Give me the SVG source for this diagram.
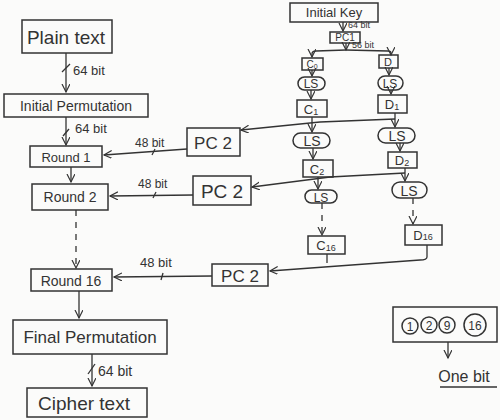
<svg xmlns="http://www.w3.org/2000/svg" width="500" height="420" viewBox="0 0 500 420">
<defs>
<style>
.bx{fill:none;stroke:#333;stroke-width:1.5}
.t{font-family:"Liberation Sans","DejaVu Sans",sans-serif;fill:#333;text-anchor:middle}
.l{font-family:"Liberation Sans","DejaVu Sans",sans-serif;fill:#333}
.ln{fill:none;stroke:#333;stroke-width:1.3}
.ar{marker-end:url(#a)}
.ds{stroke-dasharray:6 6}
</style>
<marker id="a" markerWidth="10" markerHeight="10" refX="8" refY="4" orient="auto" markerUnits="userSpaceOnUse">
<path d="M0,0 L8,4 L0,8" fill="none" stroke="#333" stroke-width="1.2"/>
</marker>
</defs>
<rect width="500" height="420" fill="#fbfbfa"/>

<g id="plain"><rect class="bx" x="22" y="20" width="90" height="33"/><text class="t" x="66" y="44" font-size="19">Plain text</text></g>
<g id="ip"><rect class="bx" x="4" y="94" width="144" height="23"/><text class="t" x="76" y="111" font-size="14">Initial Permutation</text></g>
<g id="r1"><rect class="bx" x="30" y="146" width="72" height="21"/><text class="t" x="66" y="162" font-size="13">Round 1</text></g>
<g id="r2"><rect class="bx" x="32" y="184" width="76" height="26"/><text class="t" x="70" y="202" font-size="14">Round 2</text></g>
<g id="r16"><rect class="bx" x="31" y="269" width="81" height="22"/><text class="t" x="71" y="286" font-size="14">Round 16</text></g>
<g id="fp"><rect class="bx" x="13" y="320" width="154" height="34"/><text class="t" x="90" y="343" font-size="17">Final Permutation</text></g>
<g id="ct"><rect class="bx" x="27" y="388" width="120" height="29"/><text class="t" x="84" y="410" font-size="19">Cipher text</text></g>

<g id="pc2a"><rect class="bx" x="187" y="128" width="53" height="28"/><text class="t" x="213" y="149" font-size="17">PC 2</text></g>
<g id="pc2b"><rect class="bx" x="193" y="176" width="58" height="29"/><text class="t" x="222" y="198" font-size="19">PC 2</text></g>
<g id="pc2c"><rect class="bx" x="212" y="264" width="56" height="22"/><text class="t" x="240" y="282" font-size="17">PC 2</text></g>

<g id="key"><rect class="bx" x="290" y="3" width="88" height="19"/><text class="t" x="334" y="17" font-size="13">Initial Key</text></g>
<g id="pc1"><rect class="bx" x="330" y="32" width="30" height="11"/><text class="t" x="345" y="41" font-size="10">PC1</text></g>

<g id="c0"><rect class="bx" x="302" y="58" width="21" height="12"/><text class="t" x="312" y="68" font-size="10">C<tspan font-size="7" dy="1">0</tspan></text></g>
<g id="d0"><rect class="bx" x="379" y="55" width="19" height="13"/><text class="t" x="388" y="66" font-size="11">D</text></g>
<g id="ls1c"><rect class="bx" x="298" y="77" width="27" height="13" rx="6.5"/><text class="t" x="311" y="88" font-size="12">LS</text></g>
<g id="ls1d"><rect class="bx" x="378" y="76" width="25" height="14" rx="7"/><text class="t" x="390" y="88" font-size="12">LS</text></g>
<g id="c1"><rect class="bx" x="297" y="100" width="30" height="17"/><text class="t" x="311" y="114" font-size="13">C<tspan font-size="9" dy="1">1</tspan></text></g>
<g id="d1"><rect class="bx" x="378" y="95" width="29" height="18"/><text class="t" x="392" y="109" font-size="13">D<tspan font-size="9" dy="1">1</tspan></text></g>
<g id="ls2c"><rect class="bx" x="293" y="133" width="37" height="15" rx="7.5"/><text class="t" x="312" y="146" font-size="14">LS</text></g>
<g id="ls2d"><rect class="bx" x="378" y="128" width="37" height="15" rx="7.5"/><text class="t" x="397" y="141" font-size="14">LS</text></g>
<g id="c2"><rect class="bx" x="303" y="160" width="30" height="17"/><text class="t" x="317" y="174" font-size="13">C<tspan font-size="9" dy="1">2</tspan></text></g>
<g id="d2"><rect class="bx" x="388" y="152" width="29" height="16"/><text class="t" x="402" y="165" font-size="13">D<tspan font-size="9" dy="1">2</tspan></text></g>
<g id="ls3c"><rect class="bx" x="305" y="190" width="32" height="13" rx="6.5"/><text class="t" x="321" y="202" font-size="12">LS</text></g>
<g id="ls3d"><rect class="bx" x="392" y="182" width="35" height="16" rx="8"/><text class="t" x="409" y="196" font-size="14">LS</text></g>
<g id="c16"><rect class="bx" x="308" y="236" width="37" height="18"/><text class="t" x="326" y="250" font-size="13">C<tspan font-size="9" dy="1">16</tspan></text></g>
<g id="d16"><rect class="bx" x="405" y="225" width="37" height="20"/><text class="t" x="423" y="240" font-size="13">D<tspan font-size="9" dy="0">16</tspan></text></g>

<g id="legend"><rect class="bx" x="393" y="307" width="104" height="35"/>
<circle class="bx" cx="410" cy="326" r="8"/><text class="t" x="410" y="331" font-size="12">1</text>
<circle class="bx" cx="429" cy="325" r="8"/><text class="t" x="429" y="330" font-size="12">2</text>
<circle class="bx" cx="447" cy="325" r="8"/><text class="t" x="447" y="330" font-size="12">9</text>
<circle class="bx" cx="475" cy="325" r="11"/><text class="t" x="475" y="330" font-size="12">16</text>
</g>
<g id="onebit"><text class="t" x="464" y="382" font-size="16">One bit</text><line class="ln" x1="440" y1="387" x2="497" y2="387"/></g>

<g id="connectors">
<path class="ln ar" d="M66,53 L66,92"/>
<path class="ln" d="M62,72 L70,64"/>
<text class="l" x="73" y="75" font-size="13">64 bit</text>
<path class="ln ar" d="M66,117 L66,145"/>
<path class="ln" d="M63,136 L69,129"/>
<text class="l" x="75" y="133" font-size="13">64 bit</text>
<path class="ln ar" d="M71,167 L71,182"/>
<path class="ln ds ar" d="M76,210 L76,268"/>
<path class="ln ar" d="M79,291 L79,318"/>
<path class="ln ar" d="M92,354 L92,386"/>
<path class="ln" d="M88,374 L95,364"/>
<text class="l" x="98" y="376" font-size="14">64 bit</text>

<path class="ln ar" d="M187,149 L104,155"/>
<path class="ln" d="M152,155 L155,149"/>
<text class="l" x="135" y="147" font-size="12">48 bit</text>
<path class="ln ar" d="M193,195 L110,196"/>
<path class="ln" d="M153,198 L156,192"/>
<text class="l" x="138" y="188" font-size="12">48 bit</text>
<path class="ln ar" d="M212,276 L114,277"/>
<path class="ln" d="M161,280 L163,273"/>
<text class="l" x="140" y="267" font-size="13">48 bit</text>

<path class="ln ar" d="M343,22 L343,31"/>
<text class="l" x="348" y="28" font-size="9">64 bit</text>
<path class="ln ar" d="M346,43 L346,50"/>
<text class="l" x="352" y="48" font-size="9">56 bit</text>
<path class="ln ar" d="M346,50 L316,51 Q312,51 312,54 L312,57"/>
<path class="ln ar" d="M346,50 L388,51 Q391,51 391,53 L391,55"/>
<path class="ln ar" d="M312,70 L312,76"/>
<path class="ln ar" d="M389,68 L389,75"/>
<path class="ln ar" d="M311,90 L311,99"/>
<path class="ln ar" d="M391,90 L391,94"/>
<path class="ln ar" d="M312,117 L312,132"/>
<path class="ln ar" d="M395,113 L395,127"/>
<path class="ln ar" d="M395,119 L320,122 L241,130"/>
<path class="ln ar" d="M313,148 L313,159"/>
<path class="ln ar" d="M400,143 L400,151"/>
<path class="ln ar" d="M318,177 L318,189"/>
<path class="ln ar" d="M405,168 L405,181"/>
<path class="ln ar" d="M405,173 L330,177 L252,187"/>
<path class="ln ds ar" d="M322,203 L322,235"/>
<path class="ln ds ar" d="M413,198 L413,224"/>
<path class="ln ar" d="M427,245 L427,257 Q427,260 420,260 L270,271"/>
<path class="ln" d="M327,254 L327,263"/>
<path class="ln ar" d="M448,342 L448,358"/>
</g>
</svg>
